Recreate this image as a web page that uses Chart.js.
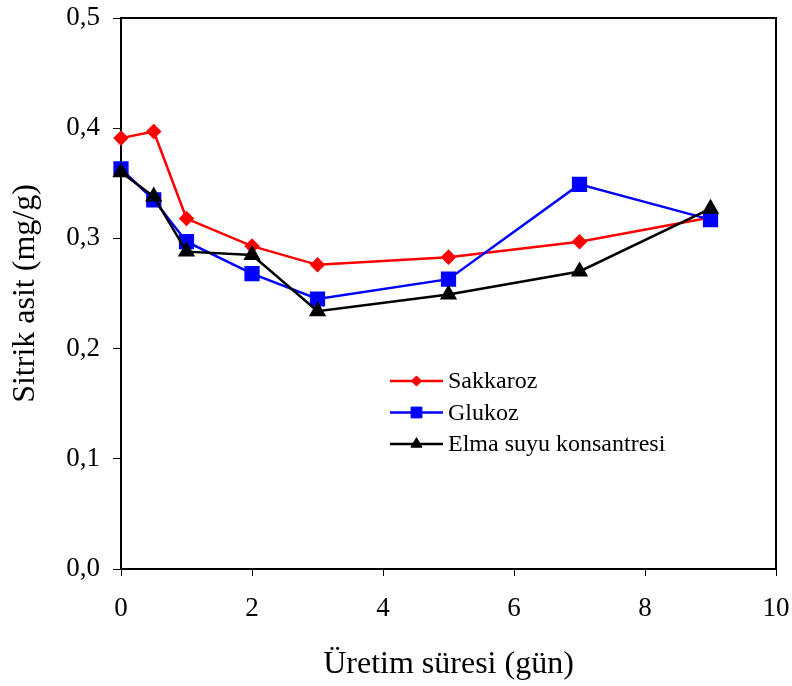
<!DOCTYPE html>
<html>
<head>
<meta charset="utf-8">
<script src="https://cdn.jsdelivr.net/npm/chart.js@4/dist/chart.umd.min.js"></script>
<style>
  html, body { margin: 0; padding: 0; background: #fff; }
  #wrap { width: 792px; height: 686px; }
</style>
</head>
<body>
<div id="wrap"><canvas id="myChart" width="792" height="686"></canvas></div>
<script>
// values
const days = [0, 0.5, 1, 2, 3, 5, 7, 9];
const sakkaroz = [0.391, 0.397, 0.318, 0.293, 0.276, 0.283, 0.297, 0.319];
const glukoz = [0.363, 0.335, 0.297, 0.268, 0.245, 0.263, 0.349, 0.317];
const elma = [0.360, 0.338, 0.288, 0.285, 0.234, 0.249, 0.270, 0.327];
const seriesNames = ['Sakkaroz', 'Glukoz', 'Elma suyu konsantresi'];
const xTitle = 'Üretim süresi (gün)';
const yTitle = 'Sitrik asit (mg/g)';

const FONT = "'Liberation Serif', 'Times New Roman', serif";

function toPoints(ys) {
    return days.map(function (d, i) { return { x: d, y: ys[i] }; });
}

// box round the plot + legend drawn inside the plot area
const boxAndLegend = {
    id: 'boxAndLegend',
    beforeDatasetsDraw: function (chart) {
        const ctx = chart.ctx;
        const a = chart.chartArea;
        ctx.save();
        ctx.strokeStyle = '#000';
        ctx.lineWidth = 2;
        ctx.strokeRect(a.left, a.top, a.right - a.left, a.bottom - a.top);
        ctx.restore();
    },
    afterDatasetsDraw: function (chart) {
        const ctx = chart.ctx;
        ctx.save();
        const lx = 390, ly = 381, rowH = 31.5;
        ctx.font = '24px ' + FONT;
        ctx.textBaseline = 'middle';
        chart.data.datasets.forEach(function (ds, i) {
            const y = ly + i * rowH;
            ctx.strokeStyle = ds.borderColor;
            ctx.lineWidth = 2.5;
            ctx.beginPath();
            ctx.moveTo(lx, y);
            ctx.lineTo(lx + 53, y);
            ctx.stroke();
            ctx.fillStyle = ds.backgroundColor;
            ctx.strokeStyle = ds.borderColor;
            ctx.lineWidth = 1;
            Chart.helpers.drawPoint(ctx, {
                pointStyle: ds.pointStyle,
                radius: ds.pointRadius * 0.85,
                rotation: 0,
                borderWidth: 1
            }, lx + 26.5, y);
            ctx.fillStyle = '#000';
            ctx.fillText(ds.label, lx + 58, y + 1);
        });
        ctx.restore();
    }
};

const data = {
    datasets: [{
        label: seriesNames[0],
        data: toPoints(sakkaroz),
        borderColor: '#ff0000',
        backgroundColor: '#ff0000',
        pointStyle: 'rectRot',
        pointRadius: 6,
        borderWidth: 2.5,
        clip: false,
        order: 2
    }, {
        label: seriesNames[1],
        data: toPoints(glukoz),
        borderColor: '#0000ff',
        backgroundColor: '#0000ff',
        pointStyle: 'rect',
        pointRadius: 9,
        borderWidth: 2.5,
        clip: false,
        order: 1
    }, {
        label: seriesNames[2],
        data: toPoints(elma),
        borderColor: '#000000',
        backgroundColor: '#000000',
        pointStyle: 'triangle',
        pointRadius: 7.5,
        borderWidth: 2.5,
        clip: false,
        order: 0
    }]
};

const config = {
    type: 'line',
    data: data,
    options: {
        responsive: false,
        animation: false,
        layout: { padding: { top: 18, right: 16, left: 0, bottom: 0 } },
        plugins: {
            legend: { display: false },
            tooltip: { enabled: false }
        },
        scales: {
            x: {
                type: 'linear',
                min: 0,
                max: 10,
                afterFit: function (s) {
                    s.height = 117;
                    s.paddingLeft = 0;
                    s.paddingRight = 0;
                },
                border: { display: true, color: '#000', width: 2 },
                grid: { drawOnChartArea: false, drawTicks: true, tickLength: 7, color: '#000', lineWidth: 1 },
                ticks: {
                    stepSize: 2,
                    color: '#000',
                    padding: 17,
                    maxRotation: 0,
                    font: { family: FONT, size: 27 }
                },
                title: {
                    display: true,
                    text: xTitle,
                    color: '#000',
                    font: { family: FONT, size: 32 },
                    padding: { top: 0, bottom: 2 }
                }
            },
            y: {
                min: 0,
                max: 0.5,
                afterFit: function (s) {
                    s.width = 121;
                    s.paddingTop = 0;
                    s.paddingBottom = 0;
                },
                border: { display: true, color: '#000', width: 2 },
                grid: { drawOnChartArea: false, drawTicks: true, tickLength: 8, color: '#000', lineWidth: 1 },
                ticks: {
                    stepSize: 0.1,
                    color: '#000',
                    padding: 13,
                    font: { family: FONT, size: 27 },
                    callback: function (v) { return v.toFixed(1).replace('.', ','); }
                },
                title: {
                    display: true,
                    text: yTitle,
                    color: '#000',
                    font: { family: FONT, size: 32 },
                    padding: { top: 6, bottom: 0 }
                }
            }
        }
    },
    plugins: [boxAndLegend]
};

window.onload = function () {
    const context = document.getElementById('myChart').getContext('2d');
    new Chart(context, config);
};
</script>
</body>
</html>
